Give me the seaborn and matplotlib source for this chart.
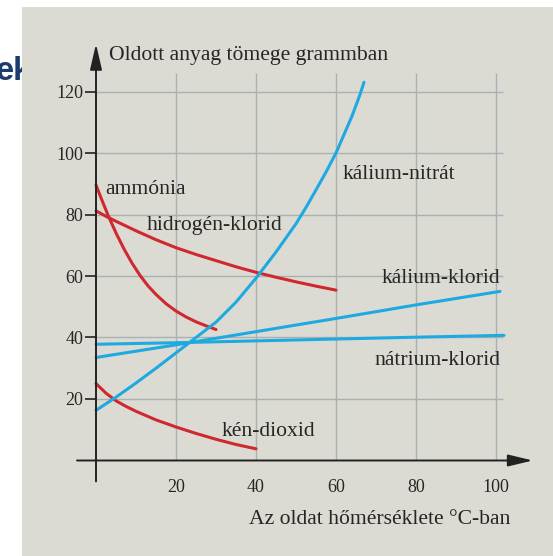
import pandas as pd
import numpy as np
import matplotlib.pyplot as plt
import seaborn as sns
from matplotlib.patches import Rectangle

# --- data (temperature in °C, grams dissolved) ---
ammonia_x = [0, 1.5, 3, 5, 7, 9, 11, 13, 15, 17.5, 20, 22.5, 25, 27.5, 30]
ammonia_y = [89.6, 84.6, 79.8, 74.0, 68.8, 64.2, 60.2, 56.8, 54.0, 51.0, 48.6, 46.7, 45.1, 43.8, 42.6]
hcl_x = [0, 2.5, 5, 10, 15, 20, 25, 30, 35, 40, 45, 50, 55, 60]
hcl_y = [81.2, 79.4, 77.8, 74.7, 71.8, 69.2, 67.0, 65.0, 63.0, 61.2, 59.6, 58.1, 56.7, 55.4]
so2_x = [0, 2.5, 5, 7.5, 10, 15, 20, 25, 30, 35, 40]
so2_y = [25.0, 21.9, 19.4, 17.6, 16.0, 13.2, 10.9, 8.8, 6.9, 5.2, 3.8]
kno3_x = [0, 5, 10, 15, 20, 25, 30, 35, 40, 45, 50, 52.5, 55, 57.5, 60, 62, 64, 66, 67]
kno3_y = [16.3, 20.6, 25.2, 30.0, 35.0, 40.0, 45.0, 51.5, 59.3, 67.8, 77.0, 82.3, 88.0, 93.8, 100.0,
          106.0, 112.0, 119.0, 123.0]
kcl_x = [0, 20, 40, 60, 80, 101]
kcl_y = [33.5, 37.6, 41.9, 46.2, 50.6, 55.0]
nacl_x = [0, 20, 40, 60, 80, 102]
nacl_y = [37.8, 38.3, 38.9, 39.5, 40.1, 40.7]

x_ticks = [20, 40, 60, 80, 100]
y_ticks = [20, 40, 60, 80, 100, 120]

RED = '#d0282f'
BLUE = '#1fa9e1'
series = {
    'ammónia': (ammonia_x, ammonia_y, RED),
    'hidrogén-klorid': (hcl_x, hcl_y, RED),
    'kén-dioxid': (so2_x, so2_y, RED),
    'kálium-nitrát': (kno3_x, kno3_y, BLUE),
    'kálium-klorid': (kcl_x, kcl_y, BLUE),
    'nátrium-klorid': (nacl_x, nacl_y, BLUE),
}
frames = [pd.DataFrame({'T': xs, 'm': ys, 'anyag': name}) for name, (xs, ys, c) in series.items()]
df = pd.concat(frames, ignore_index=True)
palette = {name: c for name, (xs, ys, c) in series.items()}

# --- figure ---
sns.set_style('white')
plt.rcParams['font.family'] = ['Liberation Serif', 'DejaVu Serif']
fig = plt.figure(figsize=(5.53, 5.56), dpi=100)
fig.patch.set_facecolor('white')

# cut-off slide title behind the panel
fig.text(-0.008, 1 - 80 / 556, 'ek', color='#1d3c6e', fontsize=23.5, fontweight='bold',
         family=['Liberation Sans', 'DejaVu Sans'], ha='left', va='baseline', zorder=-2)
fig.add_artist(Rectangle((21.5 / 553, 0), 1, 1 - 7.3 / 556, transform=fig.transFigure,
                         facecolor='#dcdbd3', edgecolor='none', zorder=-1))

ax = fig.add_axes([0, 0, 1, 1])
ax.patch.set_alpha(0)
ax.set_xlim(-24, 114.25)
ax.set_ylim(-31.06, 149.76)
ax.axis('off')

grid_c = '#aab1b3'
ax.vlines(x_ticks, 0, 126, color=grid_c, lw=1.0, zorder=1)
ax.hlines(y_ticks, 0, 101.7, color=grid_c, lw=1.0, zorder=1)

sns.lineplot(data=df, x='T', y='m', hue='anyag', units='anyag', estimator=None, sort=False,
             palette=palette, linewidth=2.2, legend=False, ax=ax, zorder=3)

# axes with arrows
axis_c = '#222222'
ax.annotate('', xy=(0, 135.5), xytext=(0, -6.8),
            arrowprops=dict(arrowstyle='-|>,head_length=1.3,head_width=0.3', mutation_scale=12,
                            color=axis_c, lw=1.4, shrinkA=0, shrinkB=0), zorder=4)
ax.annotate('', xy=(109.2, 0), xytext=(-4.75, 0),
            arrowprops=dict(arrowstyle='-|>,head_length=1.25,head_width=0.3', mutation_scale=12,
                            color=axis_c, lw=1.4, shrinkA=0, shrinkB=0), zorder=4)
ax.hlines(y_ticks, -2.75, 0, color=axis_c, lw=1.2, zorder=4)

txt_c = '#262626'
for v in y_ticks:
    ax.text(-3.1, v, str(v), ha='right', va='center_baseline', fontsize=13, color=txt_c)
for v in x_ticks:
    ax.text(v, -8.0, str(v), ha='center', va='center_baseline', fontsize=13, color=txt_c)

ax.text(3.25, 132.5, 'Oldott anyag tömege grammban', ha='left', va='center_baseline',
        fontsize=15.6, color=txt_c)
ax.text(103.5, -18.4, 'Az oldat hőmérséklete °C-ban', ha='right', va='center_baseline',
        fontsize=15.6, color=txt_c)

labels = [
    ('ammónia', 2.4, 89.0, 'left'),
    ('hidrogén-klorid', 12.8, 77.1, 'left'),
    ('kálium-nitrát', 61.75, 93.8, 'left'),
    ('kálium-klorid', 101, 60.0, 'right'),
    ('nátrium-klorid', 101, 33.3, 'right'),
    ('kén-dioxid', 31.4, 10.2, 'left'),
]
for name, lx, ly, ha in labels:
    ax.text(lx, ly, name, ha=ha, va='center_baseline', fontsize=15.6, color=txt_c, zorder=5)

plt.savefig('out.png', dpi=100)
